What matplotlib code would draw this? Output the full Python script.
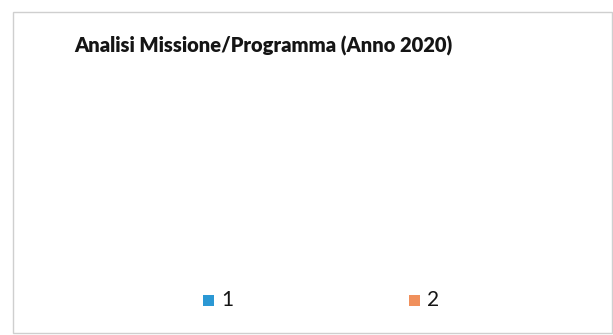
import matplotlib
matplotlib.use("Agg")
import matplotlib.pyplot as plt
from matplotlib.patches import Rectangle

# dati: nessun valore per il 2020 -> torta vuota, resta solo la legenda
categorie = ["1", "2"]
valori = [0, 0]
colori = ["#2b98d4", "#f0905c"]
titolo = "Analisi Missione/Programma (Anno 2020)"

W, H, DPI = 613, 335, 100
fig = plt.figure(figsize=(W / DPI, H / DPI), dpi=DPI)
fig.patch.set_facecolor("white")

# cornice del grafico (coordinate in pixel -> frazioni della figura)
fig.patches.append(Rectangle((13 / W, 1 - 333 / H), 599 / W, 321 / H,
                             transform=fig.transFigure, fill=False,
                             edgecolor="#cfcfcf", lw=1.0))

ax = fig.add_axes([0.3, 0.25, 0.4, 0.5])
ax.set_axis_off()
if sum(valori) > 0:
    ax.pie(valori, colors=colori, startangle=90, counterclock=False)

fig.text(263 / W, 1 - 46 / H, titolo, ha="center", va="center",
         fontsize=14.5, fontweight="heavy", family=["Lato", "DejaVu Sans"],
         color="#151515")

# legenda in basso
pos_x = [208, 414]
for x, lab, c in zip(pos_x, categorie, colori):
    fig.patches.append(Rectangle(((x - 5.5) / W, 1 - 305.5 / H), 11 / W, 11 / H,
                                 transform=fig.transFigure, facecolor=c,
                                 edgecolor="none"))
    fig.text((x + 13) / W, 1 - 300 / H, lab, ha="left", va="center",
             fontsize=15, family=["Lato", "DejaVu Sans"], color="#151515")

fig.savefig("out.png", dpi=DPI)
